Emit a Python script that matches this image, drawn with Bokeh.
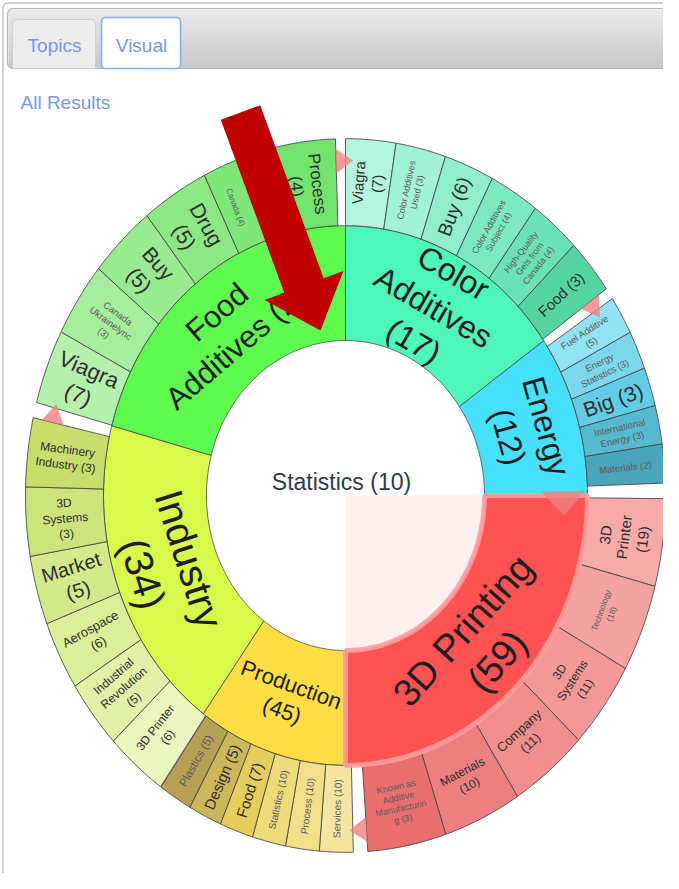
import math
from bokeh.plotting import figure
from bokeh.models import Range1d, ColumnDataSource
from bokeh.core.properties import value, field
from bokeh.embed import file_html
from bokeh.resources import INLINE

# ---------------- data ----------------
center_label = "Statistics"
center_count = 10

group_labels = ["Color Additives", "Energy", "3D Printing", "Production", "Industry", "Food Additives"]
group_counts = [17, 12, 59, 45, 34, 24]
group_share = [55, 35, 90, 36, 69, 75]   # degrees of the ring each topic occupies, clockwise from top

color_additives_topics = ["Viagra", "Color Additives Used", "Buy", "Color Additives Subject",
                          "High-Quality Gels from Canada", "Food"]
color_additives_counts = [7, 3, 6, 4, 4, 3]
energy_topics = ["Fuel Additive", "Energy Statistics", "Big", "International Energy", "Materials"]
energy_counts = [5, 3, 3, 3, 2]
printing_topics = ["3D Printer", "Technology", "3D Systems", "Company", "Materials",
                   "Known as Additive Manufacturing"]
printing_counts = [19, 18, 11, 11, 10, 3]
production_topics = ["Services", "Process", "Statistics", "Food", "Design", "Plastics"]
production_counts = [10, 10, 10, 7, 5, 5]
industry_topics = ["3D Printer", "Industrial Revolution", "Aerospace", "Market", "3D Systems",
                   "Machinery Industry"]
industry_counts = [6, 5, 6, 5, 3, 3]
food_additives_topics = ["Viagra", "Canada Ukrainelync", "Buy", "Drug", "Canada", "Process"]
food_additives_counts = [7, 3, 5, 5, 4, 4]

highlighted = "3D Printing"
tab_labels = ["Topics", "Visual"]
link_label = "All Results"

sub_topics = [color_additives_topics, energy_topics, printing_topics,
              production_topics, industry_topics, food_additives_topics]
sub_counts = [color_additives_counts, energy_counts, printing_counts,
              production_counts, industry_counts, food_additives_counts]

# ---------------- styles ----------------
FONT = value("Liberation Sans")
GROUP_COLORS = ["#4ff6b9", "#46e0fb", "#ff5252", "#fedd45", "#d8f84b", "#5ffa4f"]
SUB_COLORS = [
    ["#b3f5df", "#a3f2d7", "#90eecd", "#7de9c2", "#6ae2b5", "#55d4a1"],
    ["#90e3f3", "#7bd8ec", "#62cce4", "#55b9d0", "#4aa5ba"],
    ["#f6abab", "#f3a2a2", "#f29898", "#f08d8d", "#ee7f7f", "#e96e6e"],
    ["#f4e6a0", "#f1df8a", "#eedb7b", "#e5cd5e", "#ccb65a", "#b5a054"],
    ["#ebf6bf", "#e2f1a8", "#dbee99", "#d4e98a", "#cde47c", "#c8dd6c"],
    ["#b5f1ac", "#a6ee9e", "#98eb90", "#8be884", "#7fe679", "#72e46d"],
]
GROUP_FONT = [32, 32, 38, 22, 40, 31]
SUB_FONT = [
    [15, 9, 19, 9, 9, 15],
    [9.5, 9.5, 21, 9.5, 9.5],
    [15, 8.5, 12, 13, 12, 9],
    [10, 10, 10, 15, 15, 11.5],
    [12, 12, 13, 20, 12, 12],
    [22, 9.5, 21, 21, 8, 17],
]
# angular lead / trail (deg) of each outer-ring group relative to its topic wedge
LEADS = [0.0, 1.5, 0.5, -1.4, -0.7, 0.1]
TRAILS = [0.4, 2.0, 4.0, 0.8, 2.4, 1.8]
LINES = {
    "Color Additives (17)": "Color\nAdditives\n(17)",
    "Energy (12)": "Energy\n(12)",
    "3D Printing (59)": "3D Printing\n(59)",
    "Production (45)": "Production\n(45)",
    "Industry (34)": "Industry\n(34)",
    "Food Additives (24)": "Food\nAdditives (24)",
    "Viagra (7)": "Viagra\n(7)",
    "Color Additives Used (3)": "Color Additives\nUsed (3)",
    "Color Additives Subject (4)": "Color Additives\nSubject (4)",
    "High-Quality Gels from Canada (4)": "High-Quality\nGels from\nCanada (4)",
    "Fuel Additive (5)": "Fuel Additive\n(5)",
    "Energy Statistics (3)": "Energy\nStatistics (3)",
    "International Energy (3)": "International\nEnergy (3)",
    "3D Printer (19)": "3D\nPrinter\n(19)",
    "Technology (18)": "Technology\n(18)",
    "3D Systems (11)": "3D\nSystems\n(11)",
    "Company (11)": "Company\n(11)",
    "Materials (10)": "Materials\n(10)",
    "Known as Additive Manufacturing (3)": "Known as\nAdditive\nManufacturin\ng (3)",
    "3D Printer (6)": "3D Printer\n(6)",
    "Industrial Revolution (5)": "Industrial\nRevolution\n(5)",
    "Aerospace (6)": "Aerospace\n(6)",
    "Market (5)": "Market\n(5)",
    "3D Systems (3)": "3D\nSystems\n(3)",
    "Machinery Industry (3)": "Machinery\nIndustry (3)",
    "Canada Ukrainelync (3)": "Canada\nUkrainelync\n(3)",
    "Buy (5)": "Buy\n(5)",
    "Drug (5)": "Drug\n(5)",
    "Process (4)": "Process\n(4)",
}
LABEL_SHIFT = {"Canada (4)": -3.0}   # bearing nudge (deg) for labels kept clear of the arrow

# ---------------- geometry helpers ----------------
W, H = 663, 873
OX, OY = 0, 0                        # page offset of the figure in the photograph
CX, CY, SY = 345.0, 495.0, 1.115     # page-pixel centre, vertical stretch of the picture
R0, R1, R2 = 139.0, 242.0, 320.0


def dx(X):
    return X - CX


def dy(Y):
    return (CY - Y) / SY


def polar(r, b):
    t = math.radians(90.0 - b)
    return r * math.cos(t), r * math.sin(t)


def annular(r_in, r_out, b0, b1):
    n = max(4, int(abs(b1 - b0) / 0.75) + 2)
    bs = [b0 + (b1 - b0) * i / (n - 1) for i in range(n)]
    xs, ys = [], []
    for b in bs:
        x, y = polar(r_out, b)
        xs.append(x); ys.append(y)
    for b in reversed(bs):
        x, y = polar(r_in, b)
        xs.append(x); ys.append(y)
    return xs, ys


def screen_angle(alpha_deg):
    a = math.radians(alpha_deg)
    return math.atan2(SY * math.sin(a), math.cos(a))


def tangential(theta):
    return theta - 90 if math.sin(math.radians(theta)) > 0 else theta + 90


def radial(theta):
    return theta if math.cos(math.radians(theta)) >= -1e-9 else theta - 180


def round_rect(x0, y0, x1, y1, r, top_only=False):
    pts = []
    def arc(cx, cy, a0, a1):
        for i in range(7):
            a = math.radians(a0 + (a1 - a0) * i / 6)
            pts.append((cx + r * math.cos(a), cy - r * math.sin(a)))
    arc(x1 - r, y0 + r, 0, 90)
    arc(x0 + r, y0 + r, 90, 180)
    if top_only:
        pts.append((x0, y1)); pts.append((x1, y1))
    else:
        arc(x0 + r, y1 - r, 180, 270)
        arc(x1 - r, y1 - r, 270, 360)
    return [dx(a) for a, _ in pts], [dy(b) for _, b in pts]


p = figure(width=W, height=H, x_range=Range1d(dx(OX), dx(OX + W)), y_range=Range1d(dy(OY + H), dy(OY)),
           output_backend="svg", toolbar_location=None, min_border=0,
           x_axis_location=None, y_axis_location=None)
p.grid.visible = False
p.outline_line_color = None
p.background_fill_color = "white"
p.border_fill_color = "white"

# ---------------- page chrome ----------------
cx_, cy_ = round_rect(2.5, 2.5, 700, 1000, 5)
p.patch(cx_, cy_, fill_color=None, line_color="#c4c4c4", line_width=1.5)
stripes = 14
for i in range(stripes):
    y0 = 9 + (67 - 9) * i / stripes
    y1 = 9 + (67 - 9) * (i + 1) / stripes
    g = int(233 - (233 - 202) * i / (stripes - 1))
    p.quad(left=dx(8), right=dx(700), top=dy(y0), bottom=dy(y1) - 0.5,
           fill_color=(g, g, g), line_color=None)
bx, by = round_rect(7, 8, 700, 68, 6)
p.patch(bx, by, fill_color=None, line_color="#b4b4b4", line_width=1.2)
tx, ty = round_rect(12, 19, 95, 68, 5, top_only=True)
p.patch(tx, ty, fill_color="#ececec", line_color="#cfcfcf", line_width=1)
vx, vy = round_rect(101, 17, 180, 68, 4)
p.patch(vx, vy, fill_color="white", line_color="#8ab0ee", line_width=1.6)
p.text(x=[dx(54), dx(141)], y=[dy(45), dy(45)], text=tab_labels, text_font=FONT,
       text_font_size="19px", text_color="#7797ee", text_align="center", text_baseline="middle")
p.text(x=[dx(20)], y=[dy(102)], text=[link_label], text_font=FONT, text_font_size="19px",
       text_color="#7797ee", text_align="left", text_baseline="middle")

# ---------------- sunburst geometry ----------------
bounds = []
acc = 0.0
for s in group_share:
    bounds.append((acc, acc + s))
    acc += s
hi = group_labels.index(highlighted)

# pale highlight in the hub
hb0, hb1 = bounds[hi]
hx, hy = annular(0.0, R0, hb0, hb1)
p.patch(hx, hy, fill_color="#fff0f0", line_color=None)

# level-1 ring
g_xs, g_ys, g_col = [], [], []
for i, (b0, b1) in enumerate(bounds):
    if i == hi:
        continue
    xs, ys = annular(R0, R1, b0, b1)
    g_xs.append(xs); g_ys.append(ys); g_col.append(GROUP_COLORS[i])
p.patches(g_xs, g_ys, fill_color=g_col, line_color="#4a4a4a", line_width=1, line_alpha=0.8)

# level-2 ring
s_xs, s_ys, s_col = [], [], []
lab_x, lab_y, lab_t, lab_a, lab_fs, lab_c = [], [], [], [], [], []
sub_spans = []
for i, (b0, b1) in enumerate(bounds):
    names, counts = sub_topics[i], sub_counts[i]
    a0, a1 = b0 + LEADS[i], b1 - TRAILS[i]
    step = (a1 - a0) / len(names)
    sub_spans.append((a0, a1))
    tang = step > 13
    for j, (nm, c) in enumerate(zip(names, counts)):
        c0, c1 = a0 + j * step, a0 + (j + 1) * step
        xs, ys = annular(R1, R2, c0, c1)
        s_xs.append(xs); s_ys.append(ys); s_col.append(SUB_COLORS[i][j])
        key = f"{nm} ({c})"
        bm = (c0 + c1) / 2 + LABEL_SHIFT.get(key, 0.0)
        theta = 90 - bm
        x, y = polar((R1 + R2) / 2, bm)
        lab_x.append(x); lab_y.append(y); lab_t.append(LINES.get(key, key))
        lab_a.append(screen_angle(tangential(theta) if tang else radial(theta)))
        fs = SUB_FONT[i][j]
        lab_fs.append(f"{fs}px")
        lab_c.append("#2e2e2e" if fs >= 12 else "#5a5a5a")
p.patches(s_xs, s_ys, fill_color=s_col, line_color="#444444", line_width=1, line_alpha=0.85)

# highlighted topic band with glow
xs, ys = annular(R0, R1, hb0, hb1)
p.patch(xs, ys, fill_color=GROUP_COLORS[hi], line_color="#ff9c9c", line_width=5, line_alpha=0.9)

# pointer triangles at the ends of the outer groups
def triangle(r, b, base, height):
    t = math.radians(90 - b)
    ux, uy = math.cos(t), math.sin(t)          # radial
    tx_, ty_ = math.sin(t), -math.cos(t)       # clockwise tangent
    cx, cy = r * ux, r * uy
    return ([cx + base / 2 * ux, cx + height * tx_, cx - base / 2 * ux],
            [cy + base / 2 * uy, cy + height * ty_, cy - base / 2 * uy])

tri_x, tri_y = [], []
for i in (0, 2, 4, 5):
    xs, ys = triangle(300, sub_spans[i][1], 22, 17)
    tri_x.append(xs); tri_y.append(ys)
e_end = bounds[1][1] - 1.0
t = math.radians(90 - e_end)
cx, cy = 218 * math.cos(t), 218 * math.sin(t)
tri_x.append([cx + 22 * math.cos(t), cx + 22 * math.sin(t), cx - 22 * math.cos(t)])
tri_y.append([cy + 22 * math.sin(t), cy - 22 * math.cos(t), cy - 22 * math.sin(t)])
p.patches(tri_x, tri_y, fill_color="#f07f7f", fill_alpha=0.8, line_color=None)

# ---------------- labels ----------------
gl_x, gl_y, gl_t, gl_a, gl_fs = [], [], [], [], []
for i, (b0, b1) in enumerate(bounds):
    bm = (b0 + b1) / 2
    x, y = polar((R0 + R1) / 2, bm)
    key = f"{group_labels[i]} ({group_counts[i]})"
    gl_x.append(x); gl_y.append(y); gl_t.append(LINES.get(key, key))
    gl_a.append(screen_angle(tangential(90 - bm)))
    gl_fs.append(f"{GROUP_FONT[i]}px")
p.text(x="x", y="y", text="t", angle="a", text_font_size=field("fs"),
       source=ColumnDataSource(dict(x=gl_x, y=gl_y, t=gl_t, a=gl_a, fs=gl_fs)),
       text_font=FONT, text_color="#1e1e1e", text_align="center", text_baseline="middle",
       text_line_height=1.1)

p.text(x="x", y="y", text="t", angle="a", text_font_size=field("fs"), text_color="c",
       source=ColumnDataSource(dict(x=lab_x, y=lab_y, t=lab_t, a=lab_a, fs=lab_fs, c=lab_c)),
       text_font=FONT, text_align="center", text_baseline="middle", text_line_height=1.1)

p.text(x=[dx(341)], y=[dy(481)], text=[f"{center_label} ({center_count})"], text_font=FONT,
       text_font_size="23px", text_color="#343846", text_align="center", text_baseline="middle")

# ---------------- red annotation arrow ----------------
TAIL, TIP = (240.0, 112.0), (320.0, 330.0)
ux_, uy_ = TIP[0] - TAIL[0], TIP[1] - TAIL[1]
L = math.hypot(ux_, uy_)
ux_, uy_ = ux_ / L, uy_ / L
nx_, ny_ = -uy_, ux_
SHAFT, HEAD, HLEN = 21.0, 42.0, 48.0
nk = (TIP[0] - HLEN * ux_, TIP[1] - HLEN * uy_)
pts = [
    (TAIL[0] + SHAFT * nx_, TAIL[1] + SHAFT * ny_),
    (nk[0] + SHAFT * nx_, nk[1] + SHAFT * ny_),
    (nk[0] + HEAD * nx_, nk[1] + HEAD * ny_),
    TIP,
    (nk[0] - HEAD * nx_, nk[1] - HEAD * ny_),
    (nk[0] - SHAFT * nx_, nk[1] - SHAFT * ny_),
    (TAIL[0] - SHAFT * nx_, TAIL[1] - SHAFT * ny_),
]
p.patch([dx(a) for a, _ in pts], [dy(b) for _, b in pts], fill_color="#c00000", line_color=None)

open("out.html", "w").write(file_html(p, INLINE))
